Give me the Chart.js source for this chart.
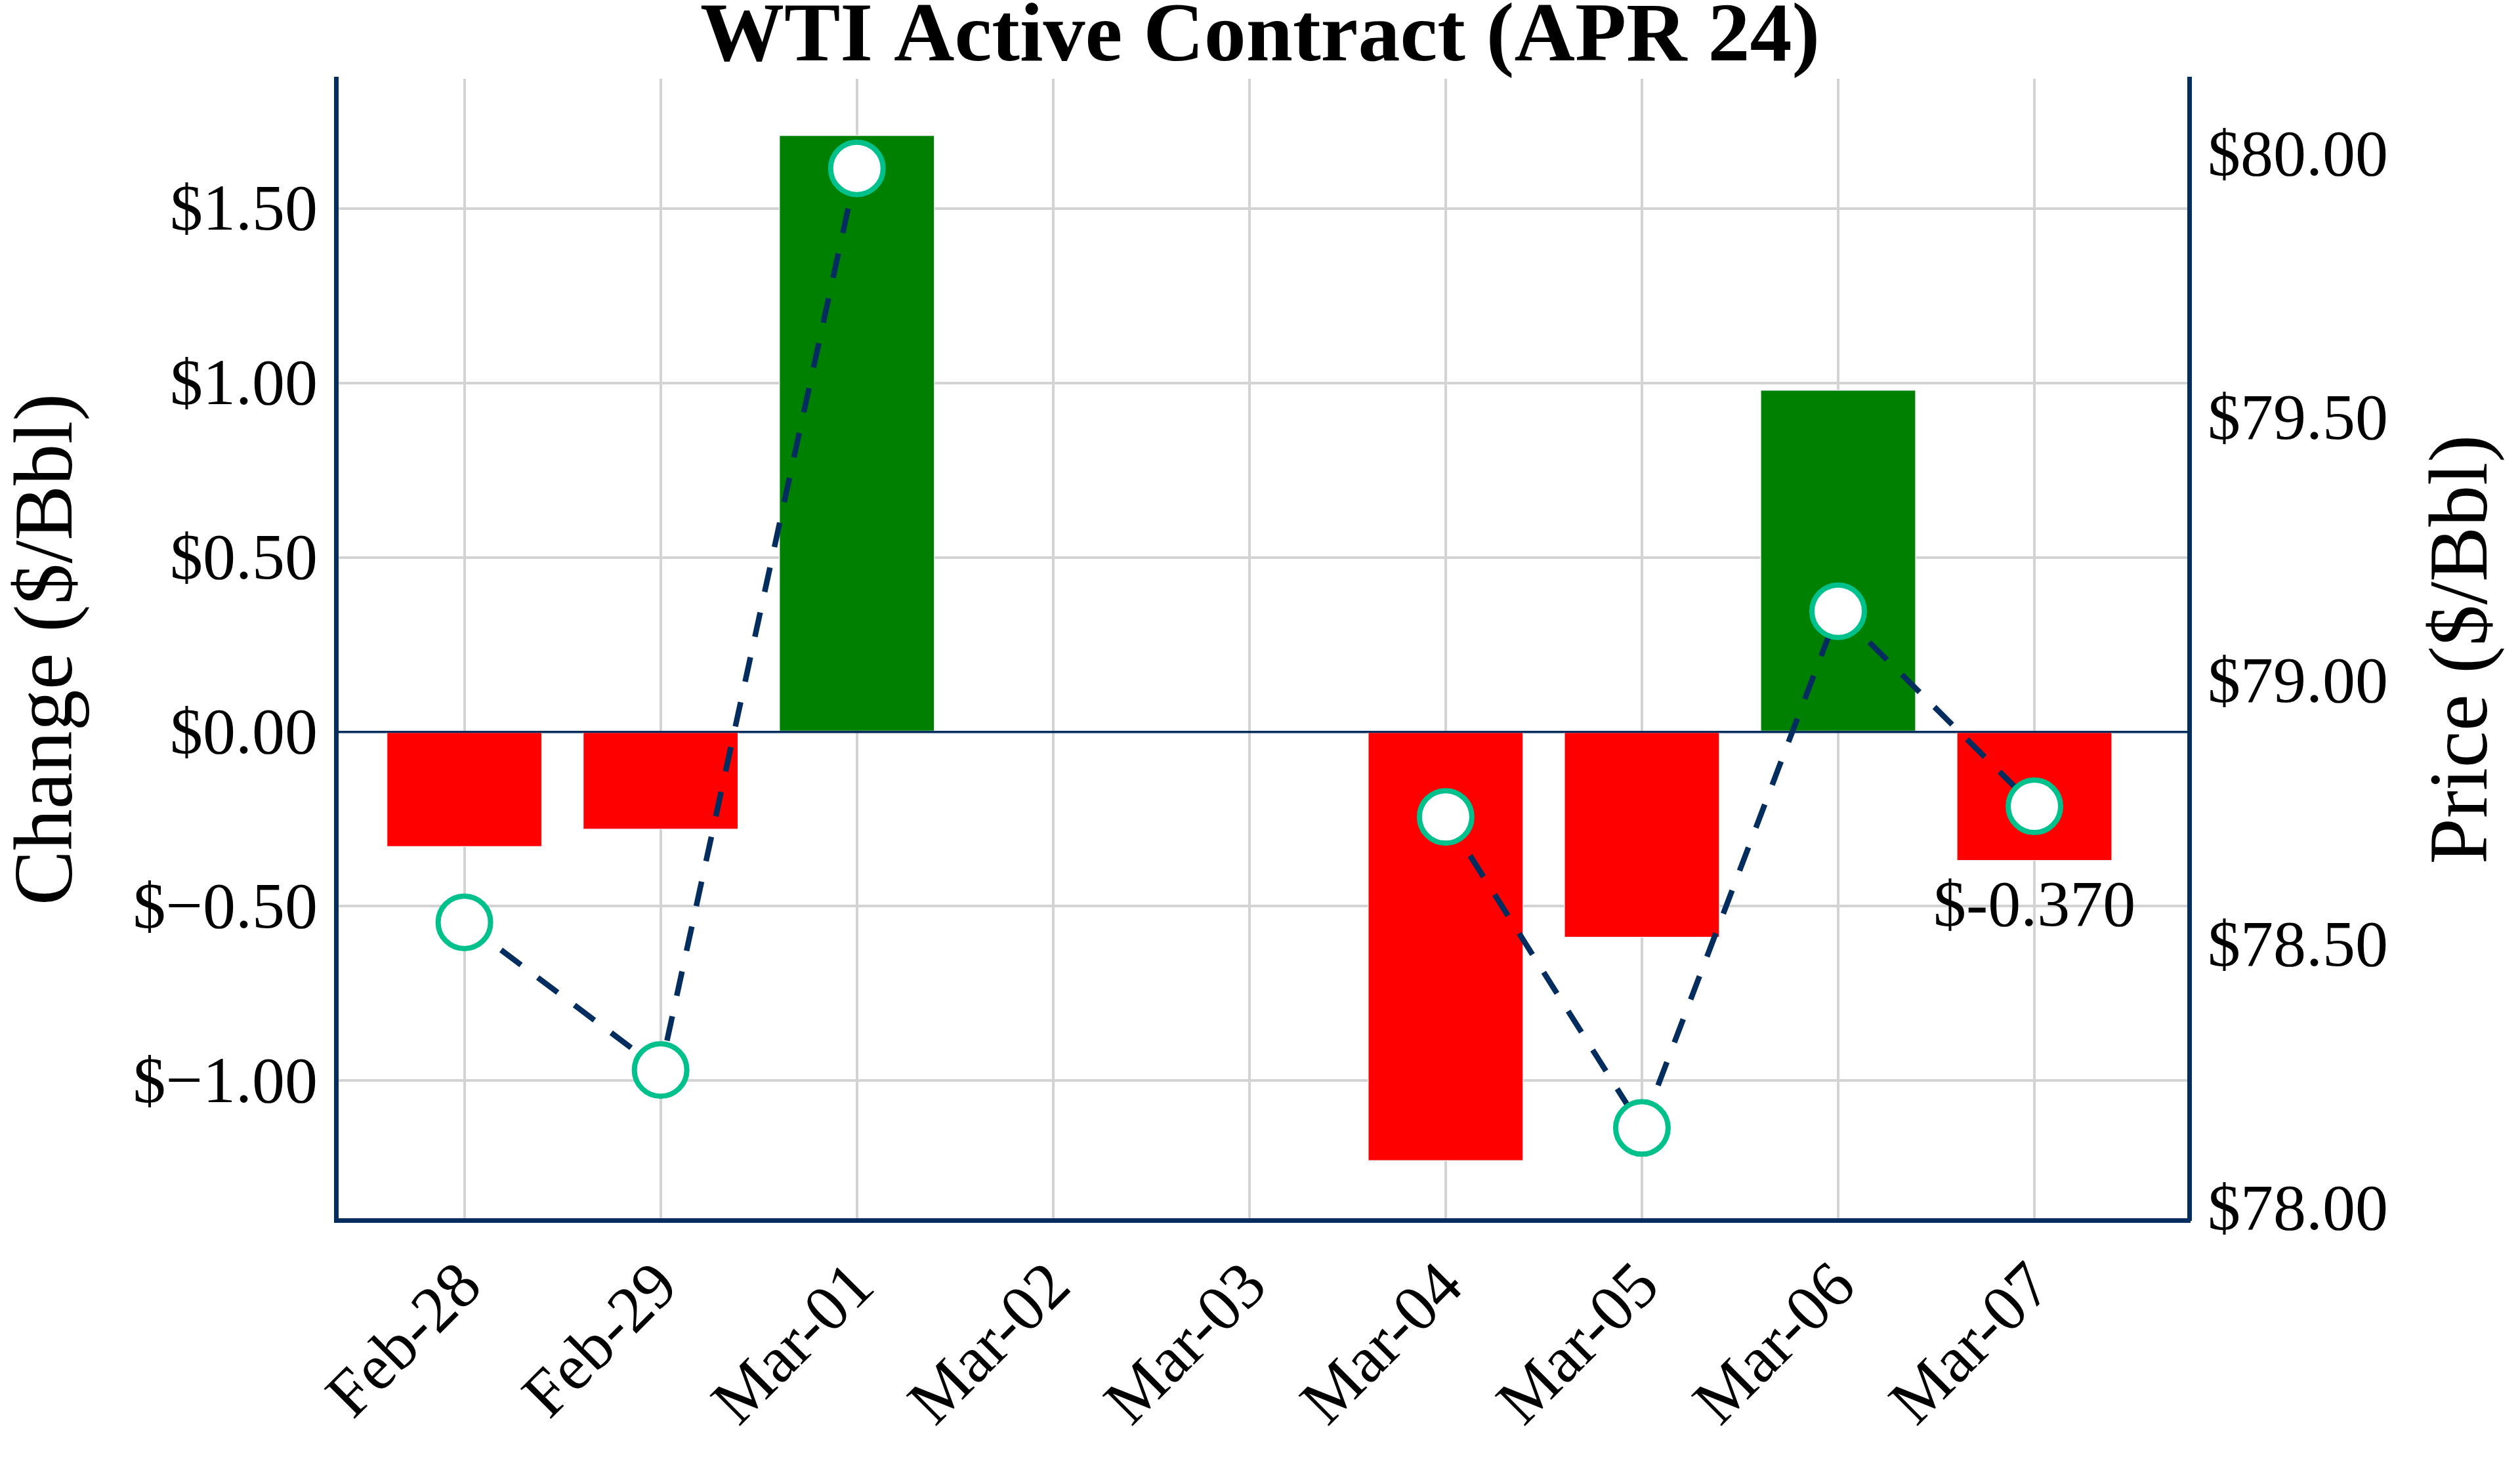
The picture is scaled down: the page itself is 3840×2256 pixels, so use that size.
<!DOCTYPE html>
<html>
<head>
<meta charset="utf-8">
<script src="https://cdn.jsdelivr.net/npm/chart.js@4.4.1/dist/chart.umd.min.js"></script>
<style>
  html, body { margin: 0; padding: 0; background: #ffffff; }
  #wrap { width: 3840px; height: 2256px; }
</style>
</head>
<body>
<div id="wrap"><canvas id="c" width="3840" height="2256"></canvas></div>
<script>
// ---- data ----
const categories = ['Feb-28', 'Feb-29', 'Mar-01', 'Mar-02', 'Mar-03', 'Mar-04', 'Mar-05', 'Mar-06', 'Mar-07'];
const changes = [-0.33, -0.28, 1.71, null, null, -1.23, -0.59, 0.98, -0.37];
const prices = [78.54, 78.26, 79.97, null, null, 78.74, 78.15, 79.13, 78.76];
const changeTicks = [-1.0, -0.5, 0.0, 0.5, 1.0, 1.5];
const priceTicks = [78.0, 78.5, 79.0, 79.5, 80.0];
const labelledBars = [8];

// ---- style ----
const NAVY = '#022d5e';
const GRID = '#d3d3d3';
const MARKER = '#00c08b';
const UP = '#008000';
const DOWN = '#ff0000';
const FONT = '"Liberation Serif", "Times New Roman", serif';

Chart.defaults.font.family = FONT;
Chart.defaults.color = '#000000';

const fmtChange = v => {
  const r = Math.round(v * 100) / 100;
  if (r < 0) return '$\u2212' + Math.abs(r).toFixed(2);
  return '$' + Math.abs(r).toFixed(2);
};
const fmtPrice = v => '$' + v.toFixed(2);

const barLabelPlugin = {
  id: 'barLabel',
  afterDatasetsDraw(chart) {
    const meta = chart.getDatasetMeta(1);
    const ctx = chart.ctx;
    ctx.save();
    ctx.font = '100px ' + FONT;
    ctx.fillStyle = '#000000';
    ctx.textAlign = 'center';
    ctx.textBaseline = 'alphabetic';
    labelledBars.forEach(i => {
      const el = meta.data[i];
      if (!el || changes[i] === null) return;
      ctx.fillText('$' + changes[i].toFixed(3), el.x, el.y + 99);
    });
    ctx.restore();
  }
};

const rightTitlePlugin = {
  id: 'rightTitle',
  afterDraw(chart) {
    const ctx = chart.ctx;
    const a = chart.chartArea;
    ctx.save();
    ctx.translate(chart.width - 84, (a.top + a.bottom) / 2);
    ctx.rotate(-Math.PI / 2);
    ctx.font = '126px ' + FONT;
    ctx.fillStyle = '#000000';
    ctx.textAlign = 'center';
    ctx.textBaseline = 'middle';
    ctx.fillText('Price ($/Bbl)', 0, 0);
    ctx.restore();
  }
};

new Chart(document.getElementById('c'), {
  type: 'bar',
  data: {
    datasets: [
      {
        type: 'line',
        label: 'Price',
        data: prices.map((v, i) => ({ x: i, y: v })),
        xAxisID: 'x',
        yAxisID: 'y1',
        borderColor: NAVY,
        borderWidth: 8.5,
        borderDash: [38, 32],
        pointRadius: 40,
        pointBorderWidth: 8,
        pointBackgroundColor: '#ffffff',
        pointBorderColor: MARKER,
        spanGaps: false,
        tension: 0,
        fill: false,
        order: 0
      },
      {
        type: 'bar',
        label: 'Change',
        data: changes.map((v, i) => ({ x: i, y: v })),
        xAxisID: 'x',
        yAxisID: 'y',
        backgroundColor: changes.map(v => (v !== null && v >= 0) ? UP : DOWN),
        borderColor: '#eef2f8',
        borderWidth: 1.5,
        barThickness: 237,
        order: 1
      }
    ]
  },
  options: {
    responsive: false,
    devicePixelRatio: 1,
    animation: false,
    events: [],
    layout: { padding: 0 },
    plugins: {
      legend: { display: false },
      tooltip: { enabled: false },
      title: {
        display: true,
        text: 'WTI Active Contract (APR 24)',
        color: '#000000',
        font: { family: FONT, size: 128, weight: 'bold', lineHeight: 0.6875 },
        padding: { top: 15, bottom: 17 }
      }
    },
    scales: {
      x: {
        type: 'linear',
        min: -0.654,
        max: 8.789,
        offset: false,
        afterBuildTicks: s => { s.ticks = categories.map((_, i) => ({ value: i })); },
        afterFit: s => { s.height = 396; },
        grid: { offset: false, color: GRID, lineWidth: 4, drawTicks: false },
        border: { display: true, color: NAVY, width: 7 },
        ticks: {
          autoSkip: false,
          maxRotation: 45,
          minRotation: 45,
          padding: 44,
          labelOffset: 12,
          color: '#000000',
          font: { family: FONT, size: 100 },
          callback: v => categories[v]
        }
      },
      y: {
        type: 'linear',
        position: 'left',
        min: -1.40,
        max: 1.872,
        afterBuildTicks: s => { s.ticks = changeTicks.map(v => ({ value: v })); },
        afterFit: s => { s.width = 512; },
        grid: {
          color: c => (c.tick && c.tick.value === 0) ? NAVY : GRID,
          lineWidth: c => (c.tick && c.tick.value === 0) ? 3.5 : 4,
          drawTicks: false
        },
        border: { display: true, color: NAVY, width: 7 },
        ticks: {
          padding: 28,
          labelOffset: 6,
          color: '#000000',
          font: { family: FONT, size: 100 },
          callback: v => fmtChange(v)
        },
        title: {
          display: true,
          text: 'Change ($/Bbl)',
          color: '#000000',
          font: { family: FONT, size: 126 },
          padding: { top: 0, bottom: 0 }
        }
      },
      y1: {
        type: 'linear',
        position: 'right',
        min: 77.975,
        max: 80.140,
        afterBuildTicks: s => { s.ticks = priceTicks.map(v => ({ value: v })); },
        afterFit: s => { s.width = 504; },
        grid: { display: false, drawOnChartArea: false, drawTicks: false },
        border: { display: true, color: NAVY, width: 7 },
        ticks: {
          padding: 28,
          labelOffset: 8,
          color: '#000000',
          font: { family: FONT, size: 100 },
          callback: v => fmtPrice(v)
        }
      }
    }
  },
  plugins: [barLabelPlugin, rightTitlePlugin]
});
</script>
</body>
</html>
